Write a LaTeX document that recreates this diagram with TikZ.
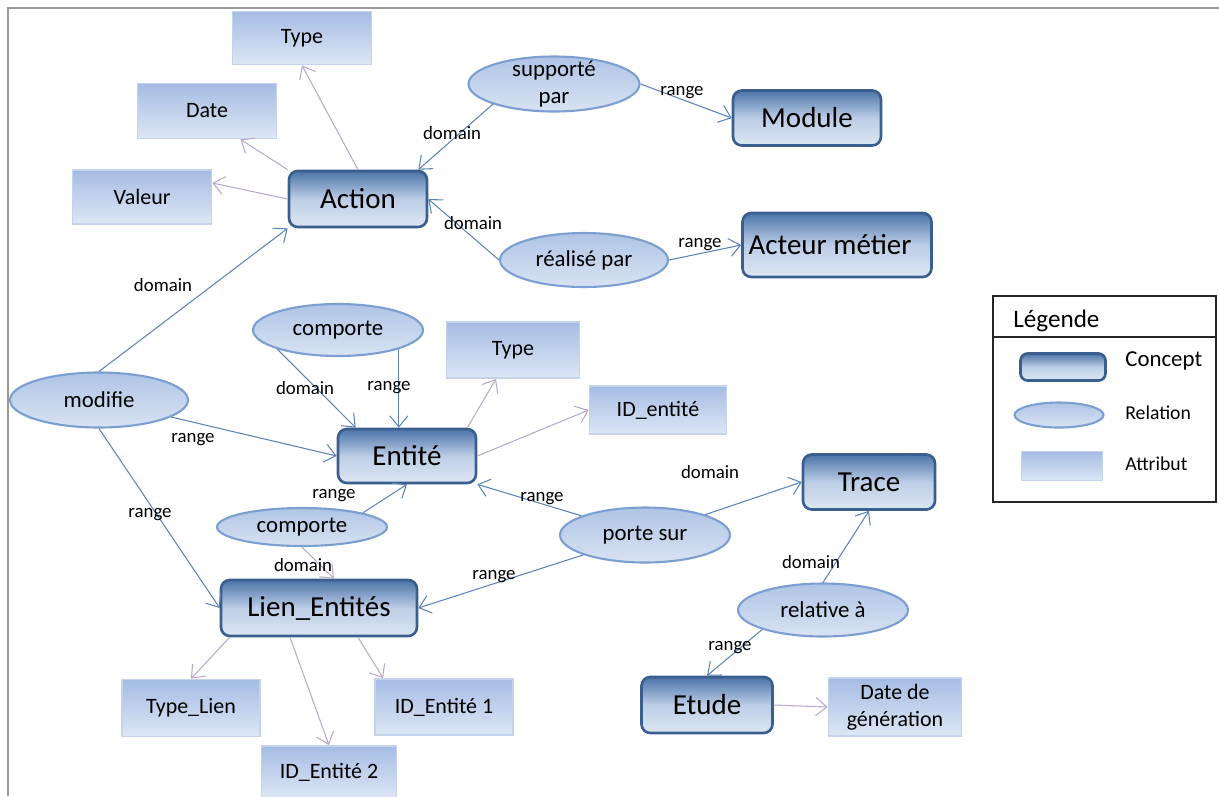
\documentclass[tikz,border=0pt]{standalone}
\usepackage{fontspec}
\setmainfont{Carlito}
\usetikzlibrary{arrows.meta,calc,shapes.geometric}

\definecolor{conceptline}{HTML}{3A5F8E}
\definecolor{concepttop}{HTML}{4C74A8}
\definecolor{conceptmid}{HTML}{BCCDE6}
\definecolor{conceptbot}{HTML}{DDE7F3}
\definecolor{relline}{HTML}{7B9FD0}
\definecolor{reltop}{HTML}{AFC4E5}
\definecolor{relbot}{HTML}{D8E3F2}
\definecolor{attrline}{HTML}{C3D3EC}
\definecolor{attrtop}{HTML}{A5BCE3}
\definecolor{attrbot}{HTML}{DDE7F5}
\definecolor{relarrow}{HTML}{5A84B8}
\definecolor{attrarrow}{HTML}{B8A8CC}
\definecolor{framegray}{HTML}{9A9A9A}

\begin{document}
\begin{tikzpicture}[
  x=0.02cm, y=-0.02cm,
  >={Straight Barb[length=2.2mm,width=3.6mm]},
  concept/.style={
    draw=conceptline,
    line width=1.5pt,
    rounded corners=5pt,
    top color=concepttop, bottom color=conceptbot, middle color=conceptmid,
    font=\fontsize{16.5}{19}\selectfont,
    inner sep=2pt
  },
  relation/.style={
    ellipse,
    draw=relline,
    line width=1.2pt,
    top color=reltop, bottom color=relbot,
    font=\fontsize{13}{15.3}\selectfont,
    inner sep=0pt
  },
  attribut/.style={
    draw=attrline,
    line width=1pt,
    top color=attrtop, bottom color=attrbot,
    font=\fontsize{12.5}{15.3}\selectfont,
    align=center
  },
  rel/.style={->, draw=relarrow, line width=0.6pt},
  attr/.style={->, draw=attrarrow, line width=0.6pt},
  lbl/.style={font=\fontsize{10.7}{12}\selectfont, inner sep=0pt},
  legtxt/.style={anchor=west, inner sep=0pt, font=\fontsize{11.2}{13}\selectfont}
]
  \useasboundingbox (0,0) rectangle (1219,796);
  \draw[framegray, line width=1pt] (8,796) -- (8,8) -- (1219,8);

  % concepts
  \node[concept, minimum width=2.76cm, minimum height=1.12cm] (act) at (358,199) {Action};
  \node[concept, minimum width=2.96cm, minimum height=1.1cm] (modu) at (807,118) {Module};
  \node[concept, minimum width=3.78cm, minimum height=1.28cm] (acm) at (837,245) {Acteur métier\hspace*{0.28cm}};
  \node[concept, minimum width=2.76cm, minimum height=1.08cm] (ent) at (407,456) {Entité};
  \node[concept, minimum width=2.64cm, minimum height=1.1cm] (trc) at (869,482) {Trace};
  \node[concept, minimum width=3.92cm, minimum height=1.12cm] (lien) at (319,608) {Lien\_Entités};
  \node[concept, minimum width=2.62cm, minimum height=1.12cm] (etu) at (707,705) {Etude};

  % relations
  \node[relation, minimum width=3.42cm, minimum height=1.1cm] (sup) at (554,84) {};
  \node[font=\fontsize{13}{15.3}\selectfont, align=center, inner sep=0pt] (supt) at (sup) {supporté\\par};
  \node[relation, minimum width=3.36cm, minimum height=1.08cm] (rea) at (584,260) {réalisé par};
  \node[relation, minimum width=3.4cm, minimum height=1.04cm] (cmp1) at (338,330) {comporte};
  \node[relation, minimum width=3.56cm, minimum height=1.1cm] (mdf) at (99,400) {modifie};
  \node[relation, minimum width=3.4cm, minimum height=0.76cm] (cmp2) at (302,527) {comporte};
  \node[relation, minimum width=3.4cm, minimum height=1.1cm] (pts) at (645,535) {porte sur};
  \node[relation, minimum width=3.4cm, minimum height=1.06cm] (rlt) at (823,610) {relative à};

  % attributs
  \node[attribut, minimum width=2.78cm, minimum height=1.06cm] (typ1) at (302,38) {Type};
  \node[attribut, minimum width=2.78cm, minimum height=1.1cm] (dat) at (207,111) {Date};
  \node[attribut, minimum width=2.78cm, minimum height=1.08cm] (val) at (142,197) {Valeur};
  \node[attribut, minimum width=2.66cm, minimum height=1.12cm] (typ2) at (513,350) {Type};
  \node[attribut, minimum width=2.74cm, minimum height=0.96cm] (ide) at (658,410) {ID\_entité};
  \node[attribut, minimum width=2.66cm, minimum height=1.14cm] (dgen) at (895,707) {Date de\\génération};
  \node[attribut, minimum width=2.76cm, minimum height=1.14cm] (tyl) at (191,708) {Type\_Lien};
  \node[attribut, minimum width=2.76cm, minimum height=1.12cm] (id1) at (444,707) {ID\_Entité 1};
  \node[attribut, minimum width=2.7cm, minimum height=1.04cm] (id2) at (329,772) {ID\_Entité 2};

  % attribute links
  \draw[attr] (act.north) -- (typ1.south);
  \draw[attr] (act.north west) -- ($(dat.south east)+(-37,0)$);
  \draw[attr] (act.west) -- ($(val.east)+(0,-14)$);
  \draw[attr] ($(ent.north east)+(-10,0)$) -- (typ2);
  \draw[attr] (ent.east) -- (ide.west);
  \draw[attr] (etu.east) -- (dgen.west);
  \draw[attr] ($(lien.south west)+(10,0)$) -- (tyl.north);
  \draw[attr] ($(lien.south)+(-29,0)$) -- (id2.north);
  \draw[attr] ($(lien.south)+(39,0)$) -- ($(id1.north west)+(9,0)$);
  \draw[attr] (cmp2.south) -- ($(lien.north)+(15,0)$);

  % relation links
  \draw[rel] (sup.south west) -- ($(act.north east)+(-10,0)$);
  \draw[rel] (sup.east) -- (modu.west);
  \draw[rel] (rea.west) -- (act.east);
  \draw[rel] (rea.east) -- (acm.west);
  \draw[rel] (mdf.north) -- (act.south west);
  \draw[rel] (mdf) -- (ent.west);
  \draw[rel] (mdf.south) -- (lien.west);
  \draw[rel] (cmp1.south west) -- ($(ent.north west)+(19,0)$);
  \draw[rel] (cmp1.south east) -- (cmp1.south east |- ent.north);
  \draw[rel] (cmp2.north east) -- (ent.south);
  \draw[rel] (pts) -- (ent.south east);
  \draw[rel] (pts) -- (trc.west);
  \draw[rel] (pts) -- (lien.east);
  \draw[rel] (rlt.north) -- (trc.south);
  \draw[rel] (rlt.south west) -- (etu.north);

  % labels
  \node[lbl] (l1) at (452,133) {domain};
  \node[lbl] (l2) at (682,93) {range};
  \node[lbl] (l3) at (473,223) {domain};
  \node[lbl] (l4) at (700,245) {range};
  \node[lbl] (l5) at (163,285) {domain};
  \node[lbl] (l6) at (193,440) {range};
  \node[lbl] (l7) at (150,515) {range};
  \node[lbl] (l8) at (305,388) {domain};
  \node[lbl] (l9) at (389,388) {range};
  \node[lbl] (l10) at (334,496) {range};
  \node[lbl] (l11) at (303,565) {domain};
  \node[lbl] (l12) at (710,472) {domain};
  \node[lbl] (l13) at (542,499) {range};
  \node[lbl] (l14) at (494,577) {range};
  \node[lbl] (l15) at (811,562) {domain};
  \node[lbl] (l16) at (730,648) {range};

  % legende
  \node[draw=black!85, line width=1.3pt, minimum width=4.46cm, minimum height=4.12cm] (leg) at (1104.5,399) {};
  \draw[black!85, line width=1.3pt] ($(leg.north west)+(0,42)$) -- ($(leg.north east)+(0,42)$);
  \node[anchor=west, inner sep=0pt, font=\fontsize{14.3}{16}\selectfont] (legt) at (1013,321) {Légende};
  \node[concept, minimum width=1.7cm, minimum height=0.54cm, rounded corners=4pt] (legc) at (1063,367) {};
  \node[relation, minimum width=1.78cm, minimum height=0.5cm] (legr) at (1059,415) {};
  \node[attribut, minimum width=1.62cm, minimum height=0.58cm] (lega) at (1062,466) {};
  \node[legtxt, font=\fontsize{13}{15}\selectfont] (legct) at (1125,361) {Concept};
  \node[legtxt] (legrt) at (1125,413) {Relation};
  \node[legtxt] (legat) at (1125,464) {Attribut};
\end{tikzpicture}
\end{document}
